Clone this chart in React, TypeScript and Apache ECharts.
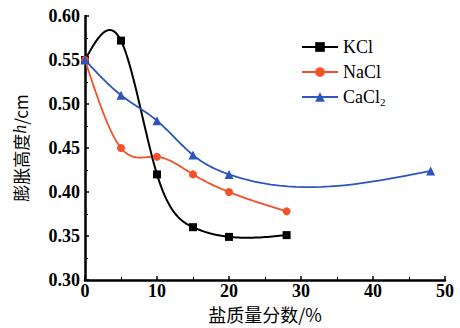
import React, { useEffect, useRef } from "react";
import * as echarts from "echarts";

const kclX = [0, 5, 10, 15, 20, 28];
const kclY = [0.55, 0.572, 0.42, 0.36, 0.349, 0.351];
const naclX = [0, 5, 10, 15, 20, 28];
const naclY = [0.55, 0.45, 0.44, 0.42, 0.4, 0.378];
const cacl2X = [0, 5, 10, 15, 20, 48];
const cacl2Y = [0.55, 0.51, 0.481, 0.442, 0.42, 0.424];

const xTicks = [0, 10, 20, 30, 40, 50];
const yTicks = [0.3, 0.35, 0.4, 0.45, 0.5, 0.55, 0.6];

const zip = (xs: number[], ys: number[]) => xs.map((x, i) => [x, ys[i]]);

// natural cubic spline through the data points (as a connecting-line style)
function splineSamples(xs: number[], ys: number[], perSeg = 24): number[][] {
  const n = xs.length;
  const h: number[] = [];
  for (let i = 0; i < n - 1; i++) h.push(xs[i + 1] - xs[i]);
  const a: number[] = new Array(n).fill(0);
  const b: number[] = new Array(n).fill(1);
  const c: number[] = new Array(n).fill(0);
  const d: number[] = new Array(n).fill(0);
  for (let i = 1; i < n - 1; i++) {
    a[i] = h[i - 1];
    b[i] = 2 * (h[i - 1] + h[i]);
    c[i] = h[i];
    d[i] = 6 * ((ys[i + 1] - ys[i]) / h[i] - (ys[i] - ys[i - 1]) / h[i - 1]);
  }
  const cp = new Array(n).fill(0);
  const dp = new Array(n).fill(0);
  cp[0] = c[0] / b[0];
  dp[0] = d[0] / b[0];
  for (let i = 1; i < n; i++) {
    const m = b[i] - a[i] * cp[i - 1];
    cp[i] = c[i] / m;
    dp[i] = (d[i] - a[i] * dp[i - 1]) / m;
  }
  const M = new Array(n).fill(0);
  M[n - 1] = dp[n - 1];
  for (let i = n - 2; i >= 0; i--) M[i] = dp[i] - cp[i] * M[i + 1];
  const out: number[][] = [];
  for (let i = 0; i < n - 1; i++) {
    for (let k = 0; k < perSeg; k++) {
      const x = xs[i] + (h[i] * k) / perSeg;
      const A = (xs[i + 1] - x) / h[i];
      const B = (x - xs[i]) / h[i];
      const y =
        A * ys[i] +
        B * ys[i + 1] +
        ((A * A * A - A) * M[i] + (B * B * B - B) * M[i + 1]) * (h[i] * h[i]) / 6;
      out.push([x, y]);
    }
  }
  out.push([xs[n - 1], ys[n - 1]]);
  return out;
}

const curve = (xs: number[], ys: number[], color: string, width: number, z: number) => ({
  type: "custom",
  coordinateSystem: "cartesian2d",
  silent: true,
  z,
  data: [[xs[0], ys[0]]],
  renderItem: (_p: any, api: any) => {
    const pts = splineSamples(xs, ys).map((p) => api.coord(p));
    return {
      type: "polyline",
      shape: { points: pts },
      style: { stroke: color, lineWidth: width, fill: "none" },
    };
  },
});

export default function App() {
  const ref = useRef<HTMLDivElement>(null);
  useEffect(() => {
    if (!ref.current) return;
    const chart = echarts.init(ref.current, null, { renderer: "svg" });
    const serif = "Liberation Serif";
    const cjk = "Noto Sans CJK SC";
    const KC = "#000";
    const NA = "#f4502a";
    const CA = "#2b55bf";
    chart.setOption({
      animation: false,
      backgroundColor: "#fff",
      grid: { left: 85, right: 15, top: 16, bottom: 48, containLabel: false, outerBoundsMode: "none" },
      legend: {
        orient: "vertical",
        left: 296,
        top: 33,
        itemWidth: 36,
        itemHeight: 12,
        itemGap: 7,
        textStyle: {
          fontFamily: serif,
          fontSize: 18,
          color: "#000",
          rich: {
            sub: { fontFamily: serif, fontSize: 11, color: "#000", verticalAlign: "bottom", padding: [9, 0, 0, 0] },
          },
        },
        formatter: (n: string) => (n === "CaCl2" ? "CaCl{sub|2}" : n),
        data: [
          { name: "KCl", lineStyle: { opacity: 1, color: KC, width: 2 } },
          { name: "NaCl", lineStyle: { opacity: 1, color: NA, width: 1.8 } },
          { name: "CaCl2", lineStyle: { opacity: 1, color: CA, width: 1.8 } },
        ],
      },
      xAxis: {
        type: "value",
        min: 0,
        max: 50,
        interval: 10,
        name: "盐质量分数/%",
        nameLocation: "middle",
        nameGap: 24,
        nameTextStyle: { fontFamily: cjk, fontSize: 18, color: "#000" },
        axisLine: { lineStyle: { color: "#000", width: 2.5 } },
        axisTick: { inside: true, length: 4, lineStyle: { color: "#000", width: 1.5 } },
        minorTick: { show: true, splitNumber: 2, length: 3, lineStyle: { color: "#000" } },
        axisLabel: {
          fontFamily: serif,
          fontWeight: "bold",
          fontSize: 18,
          color: "#000",
          margin: 2,
          formatter: (v: number) => (xTicks.includes(v) ? String(v) : ""),
        },
        splitLine: { show: false },
      },
      yAxis: {
        type: "value",
        min: 0.3,
        max: 0.6,
        interval: 0.05,
        name: "膨胀高度{i|h}/cm",
        nameLocation: "middle",
        nameGap: 56,
        nameRotate: 90,
        nameTextStyle: {
          fontFamily: cjk,
          fontSize: 17,
          color: "#000",
          rich: { i: { fontFamily: serif, fontStyle: "italic", fontSize: 18, color: "#000" } },
        },
        axisLine: { lineStyle: { color: "#000", width: 2.5 } },
        axisTick: { inside: true, length: 4, lineStyle: { color: "#000", width: 1.5 } },
        minorTick: { show: true, splitNumber: 2, length: 3, lineStyle: { color: "#000" } },
        axisLabel: {
          fontFamily: serif,
          fontWeight: "bold",
          fontSize: 18,
          color: "#000",
          margin: 5,
          formatter: (v: number) => {
            const t = yTicks.find((y) => Math.abs(y - v) < 1e-6);
            return t !== undefined ? t.toFixed(2) : "";
          },
        },
        splitLine: { show: false },
      },
      series: [
        curve(kclX, kclY, KC, 2, 3),
        curve(naclX, naclY, NA, 1.8, 2),
        curve(cacl2X, cacl2Y, CA, 1.8, 4),
        {
          name: "KCl",
          type: "line",
          data: zip(kclX, kclY),
          symbol: "rect",
          symbolSize: 8,
          lineStyle: { opacity: 0 },
          itemStyle: { color: KC },
          z: 5,
        },
        {
          name: "NaCl",
          type: "line",
          data: zip(naclX, naclY),
          symbol: "circle",
          symbolSize: 8,
          lineStyle: { opacity: 0 },
          itemStyle: { color: NA },
          z: 5,
        },
        {
          name: "CaCl2",
          type: "line",
          data: zip(cacl2X, cacl2Y),
          symbol: "triangle",
          symbolSize: 9,
          lineStyle: { opacity: 0 },
          itemStyle: { color: CA },
          z: 6,
        },
      ],
    });
    return () => chart.dispose();
  }, []);
  return <div ref={ref} style={{ width: 460, height: 328, position: "absolute", left: 0, top: 0 }} />;
}
